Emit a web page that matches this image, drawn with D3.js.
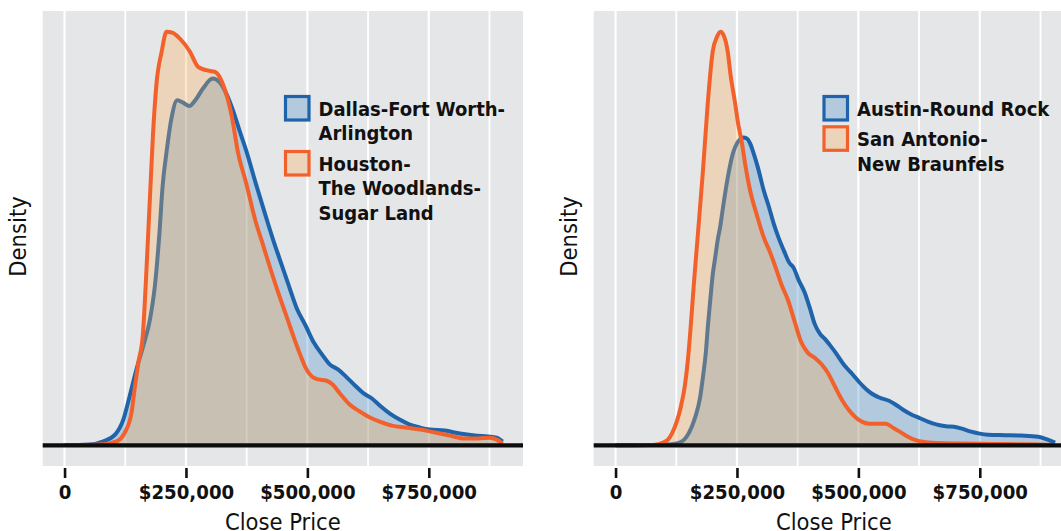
<!DOCTYPE html>
<html>
<head>
<meta charset="utf-8">
<script src="https://cdn.jsdelivr.net/npm/d3@7"></script>
<style>
body { margin: 0; background: #fff; }
svg { display: block; font-family: "DejaVu Sans Condensed", "DejaVu Sans", sans-serif; font-stretch: condensed; }
</style>
</head>
<body>
<svg id="chart" width="1061" height="531"></svg>
<script>
// close prices in $ thousands, density in units of 1e-6 per dollar
const dfwPrice = [0, 52, 80, 104, 121, 134, 148, 162, 176, 186, 195, 202, 210, 220, 232, 244, 257, 270, 285, 305,
  320, 334, 347, 361, 375, 394, 416, 429, 443, 460, 478, 497, 513, 530, 546, 563, 579, 598, 616, 633,
  649, 670, 690, 711, 732, 752, 783, 814, 845, 872, 890, 902];
const dfwDensity = [0.002, 0.009, 0.039, 0.103, 0.248, 0.473, 0.731, 0.957, 1.215, 1.536, 2.019, 2.502, 2.825, 3.147, 3.324, 3.301, 3.270, 3.330, 3.437, 3.533,
  3.495, 3.379, 3.224, 3.021, 2.825, 2.519, 2.181, 1.987, 1.794, 1.562, 1.321, 1.147, 0.992, 0.876, 0.780, 0.731, 0.664, 0.577, 0.500, 0.451,
  0.384, 0.306, 0.248, 0.200, 0.171, 0.152, 0.142, 0.113, 0.094, 0.084, 0.074, 0.036];

const houPrice = [0, 73, 107, 124, 138, 145, 152, 161, 167, 172, 177, 182, 189, 200, 210, 223, 237, 258, 275, 292,
  310, 327, 344, 357, 375, 392, 408, 426, 443, 458, 472, 485, 497, 509, 522, 538, 552, 567, 587, 608,
  629, 649, 674, 701, 732, 763, 793, 824, 851, 876, 890, 902];
const houDensity = [0.002, 0.007, 0.039, 0.123, 0.316, 0.570, 0.799, 1.053, 1.536, 2.019, 2.502, 2.986, 3.469, 3.794, 3.985, 3.973, 3.920, 3.794, 3.646, 3.614,
  3.598, 3.469, 3.179, 2.825, 2.509, 2.181, 1.940, 1.670, 1.430, 1.230, 1.040, 0.876, 0.741, 0.664, 0.635, 0.625, 0.586, 0.500, 0.393, 0.326,
  0.268, 0.229, 0.190, 0.171, 0.152, 0.123, 0.094, 0.065, 0.065, 0.074, 0.055, 0.016];

const ausPrice = [0, 71, 116, 132, 145, 157, 165, 174, 180, 186, 190, 196, 200, 205, 211, 215, 221, 228, 235, 242,
  250, 256, 263, 270, 277, 284, 293, 305, 316, 326, 336, 347, 357, 367, 377, 389, 400, 410, 421, 431,
  441, 452, 472, 487, 501, 515, 528, 544, 563, 577, 592, 610, 627, 643, 662, 680, 697, 713, 732, 750,
  767, 802, 835, 870, 890, 905];
const ausDensity = [0.001, 0.003, 0.017, 0.039, 0.112, 0.271, 0.431, 0.692, 0.996, 1.359, 1.721, 2.185, 2.475, 2.722, 3.012, 3.157, 3.447, 3.766, 4.041, 4.251,
  4.389, 4.447, 4.476, 4.462, 4.389, 4.251, 4.041, 3.708, 3.461, 3.215, 3.012, 2.823, 2.663, 2.576, 2.402, 2.229, 1.997, 1.765, 1.620, 1.547,
  1.460, 1.359, 1.156, 1.040, 0.924, 0.823, 0.750, 0.692, 0.648, 0.590, 0.518, 0.445, 0.394, 0.344, 0.300, 0.278, 0.271, 0.242, 0.199, 0.170,
  0.155, 0.148, 0.141, 0.126, 0.083, 0.039];

const satPrice = [0, 54, 81, 95, 108, 116, 126, 134, 143, 149, 155, 161, 169, 180, 190, 200, 209, 216, 223, 231,
  237, 246, 252, 260, 268, 277, 291, 305, 318, 330, 342, 355, 369, 382, 396, 410, 425, 437, 452, 466,
  480, 493, 507, 522, 540, 557, 571, 585, 602, 618, 639, 662, 709, 771, 832, 874, 905];
const satDensity = [0.001, 0.004, 0.010, 0.032, 0.083, 0.170, 0.344, 0.547, 0.880, 1.243, 1.750, 2.326, 3.022, 3.998, 4.984, 5.723, 5.941, 6.013, 5.955, 5.723,
  5.375, 4.984, 4.694, 4.404, 4.041, 3.708, 3.346, 3.026, 2.809, 2.577, 2.330, 2.113, 1.794, 1.504, 1.344, 1.272, 1.170, 1.054, 0.851, 0.663,
  0.518, 0.416, 0.344, 0.315, 0.315, 0.315, 0.257, 0.199, 0.126, 0.075, 0.046, 0.032, 0.025, 0.020, 0.016, 0.013, 0.006];

const tickValues = [0, 250000, 500000, 750000];
const tickLabels = ["0", "$250,000", "$500,000", "$750,000"];
const gridValues = [0, 125000, 250000, 375000, 500000, 625000, 750000, 875000];

const leftNames = [["Dallas-Fort Worth-", "Arlington"], ["Houston-", "The Woodlands-", "Sugar Land"]];
const rightNames = [["Austin-Round Rock"], ["San Antonio-", "New Braunfels"]];

const blue = {line: "#1f64aa", fill: "#3b89c7"};
const orange = {line: "#f2612c", fill: "#fcad4f"};

const svg = d3.select("#chart");
const panelW = 480.3, panelTop = 11, panelBottom = 466;

function drawPanel(left, series, names, legendX, legendY) {
    const g = svg.append("g");
    const x = d3.scaleLinear().domain([-45000, 944000]).range([left, left + panelW]);
    const yMax = d3.max(series, s => d3.max(s.density));
    const y = d3.scaleLinear().domain([-0.05 * yMax, 1.05 * yMax]).range([panelBottom, panelTop]);

    g.append("rect")
        .attr("x", left).attr("y", panelTop)
        .attr("width", panelW).attr("height", panelBottom - panelTop)
        .attr("fill", "#e5e6e8");

    g.selectAll(".grid")
        .data(gridValues)
        .enter().append("line")
        .attr("x1", d => x(d)).attr("x2", d => x(d))
        .attr("y1", panelTop).attr("y2", panelBottom)
        .attr("stroke", "#fff")
        .attr("stroke-width", (d, i) => i % 2 ? 1.8 : 2.2);

    series.forEach(s => {
        const pts = s.price.map((p, i) => [p * 1000, s.density[i]]);
        const area = d3.area()
            .x(d => x(d[0])).y0(y(0)).y1(d => y(d[1]))
            .curve(d3.curveMonotoneX);
        const line = d3.line()
            .x(d => x(d[0])).y(d => y(d[1]))
            .curve(d3.curveMonotoneX);
        g.append("path").attr("d", area(pts))
            .attr("fill", s.color.fill).attr("fill-opacity", 0.3);
        g.append("path").attr("d", line(pts))
            .attr("fill", "none")
            .attr("stroke", s.color.line)
            .attr("stroke-width", 4)
            .attr("stroke-linejoin", "round");
    });

    // zero line
    g.append("line")
        .attr("x1", left).attr("x2", left + panelW)
        .attr("y1", y(0)).attr("y2", y(0))
        .attr("stroke", "#0d0d0d").attr("stroke-width", 4.2);

    const axis = d3.axisBottom(x)
        .tickValues(tickValues)
        .tickFormat((d, i) => tickLabels[i])
        .tickSize(10)
        .tickPadding(7);
    const ax = g.append("g")
        .attr("transform", `translate(0,${panelBottom + 2})`)
        .call(axis);
    ax.select(".domain").remove();
    ax.selectAll(".tick line").attr("stroke", "#111").attr("stroke-width", 2.6);
    ax.selectAll(".tick text")
        .attr("fill", "#111")
        .style("font-family", "'DejaVu Sans Condensed', 'DejaVu Sans', sans-serif")
        .style("font-weight", "bold")
        .style("font-size", "20.2px");

    g.append("text")
        .attr("x", left + panelW / 2).attr("y", 529.8)
        .attr("text-anchor", "middle")
        .attr("fill", "#111")
        .style("font-size", "23.5px")
        .text("Close Price");

    g.append("text")
        .attr("transform", `translate(${left - 17},${(panelTop + panelBottom) / 2 - 2}) rotate(-90)`)
        .attr("text-anchor", "middle")
        .attr("fill", "#111")
        .style("font-size", "23.5px")
        .text("Density");

    // legend
    let yy = legendY;
    series.forEach((s, i) => {
        const lg = g.append("g");
        lg.append("rect")
            .attr("x", legendX + 1.5).attr("y", yy + 1.5)
            .attr("width", 23.5).attr("height", 23.5)
            .attr("fill", "#e5e6e8");
        lg.append("rect")
            .attr("x", legendX + 1.5).attr("y", yy + 1.5)
            .attr("width", 23.5).attr("height", 23.5)
            .attr("fill", s.color.fill).attr("fill-opacity", 0.3)
            .attr("stroke", s.color.line).attr("stroke-width", 3.2);
        const t = lg.append("text")
            .attr("x", legendX + 34.5).attr("y", yy + 20.5)
            .attr("fill", "#111")
            .style("font-weight", "bold")
            .style("font-size", "20px");
        names[i].forEach((ln, j) => {
            t.append("tspan")
                .attr("x", legendX + 34.5)
                .attr("dy", j ? 24.7 : 0)
                .text(ln);
        });
        yy += names[i].length * 24.7 + 5.6;
    });
}

drawPanel(42.7,
    [{price: dfwPrice, density: dfwDensity, color: blue},
     {price: houPrice, density: houDensity, color: orange}],
    leftNames, 284, 95);

drawPanel(593.7,
    [{price: ausPrice, density: ausDensity, color: blue},
     {price: satPrice, density: satDensity, color: orange}],
    rightNames, 822.5, 95);
</script>
</body>
</html>
